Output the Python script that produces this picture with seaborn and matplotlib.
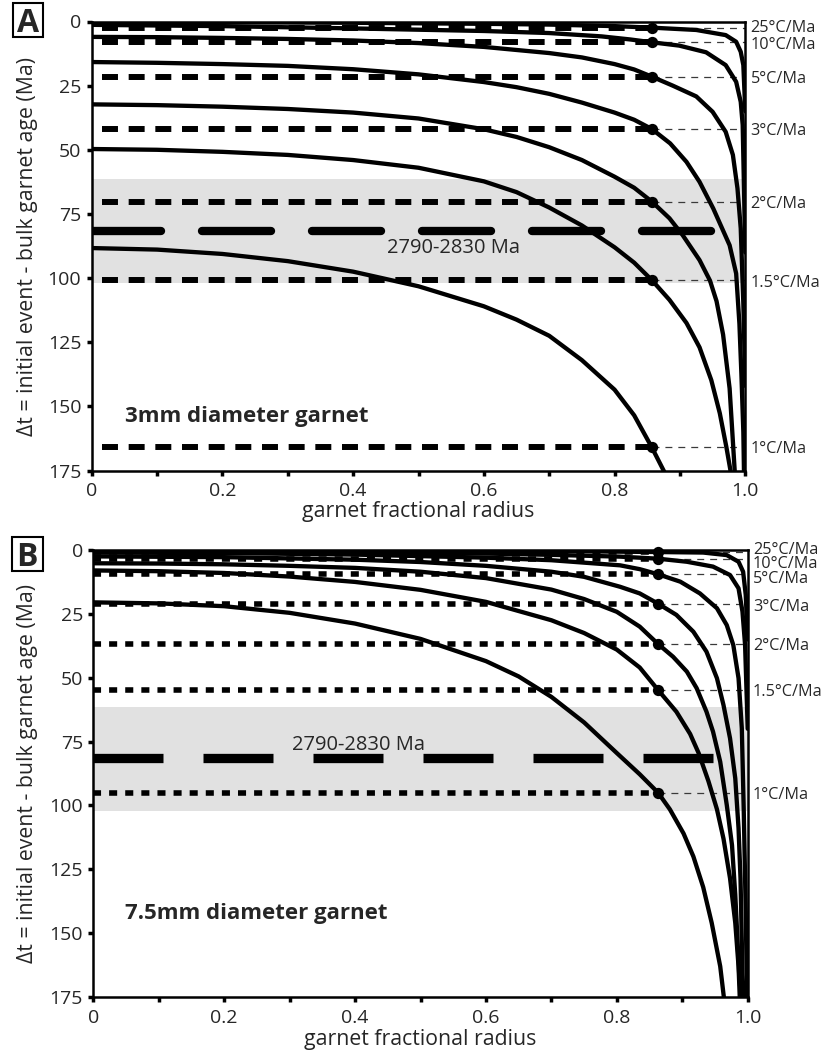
import numpy as np
import pandas as pd
import matplotlib
matplotlib.use("Agg")
import matplotlib.pyplot as plt
import seaborn as sns
from matplotlib.patches import Rectangle

# ---------------- data ----------------
RATES = ['25°C/Ma', '10°C/Ma', '5°C/Ma', '3°C/Ma', '2°C/Ma', '1.5°C/Ma', '1°C/Ma']

# Panel A : 3 mm diameter garnet, age profiles (x = fractional radius, dt in Ma)
A25_X = [0, 0.2, 0.4, 0.6, 0.7, 0.8, 0.857, 0.925, 0.97, 0.986, 0.993, 0.997, 1.0]
A25_Y = [0.2, 0.3, 0.5, 0.9, 1.2, 1.8, 2.4, 3.3, 5.3, 7.9, 11.8, 17.0, 35.0]
A10_X = [0, 0.2, 0.4, 0.6, 0.7, 0.78, 0.824, 0.857, 0.899, 0.94, 0.97, 0.986, 0.993, 0.996, 1.0]
A10_Y = [1.3, 1.8, 2.7, 3.7, 4.5, 5.8, 7.0, 8.1, 9.4, 12.0, 17.0, 23.5, 31.3, 40.3, 90.0]
A5_X = [0, 0.1, 0.2, 0.3, 0.4, 0.5, 0.6, 0.7, 0.75, 0.8, 0.83, 0.857, 0.889, 0.925, 0.95,
        0.97, 0.981, 0.988, 0.993, 0.997, 1.0]
A5_Y = [6.0, 6.1, 6.4, 6.8, 7.4, 8.4, 9.9, 12.3, 14.0, 16.6, 18.7, 21.5, 25.0, 29.2, 35.2,
        43.0, 52.0, 65.0, 80.6, 110.0, 142.0]
A3_X = [0, 0.1, 0.2, 0.3, 0.4, 0.5, 0.6, 0.65, 0.7, 0.75, 0.8, 0.83, 0.857, 0.885, 0.91,
        0.93, 0.951, 0.976, 0.986, 0.991, 0.994, 0.997, 0.998]
A3_Y = [15.8, 16.1, 16.6, 17.3, 18.6, 20.6, 23.6, 25.6, 28.2, 31.6, 35.5, 38.3, 41.9, 47.5, 54.7,
        62.5, 72.9, 87.2, 98.2, 117.8, 137.3, 160.0, 176.0]
A2_X = [0, 0.1, 0.2, 0.3, 0.4, 0.5, 0.6, 0.65, 0.7, 0.75, 0.8, 0.83, 0.857, 0.884, 0.904,
        0.93, 0.946, 0.956, 0.966, 0.976, 0.984]
A2_Y = [32.3, 32.6, 33.2, 34.1, 35.5, 37.8, 42.0, 45.0, 49.0, 54.0, 60.5, 64.8, 70.2, 76.7, 83.2,
        93.0, 101.0, 109.0, 122.0, 143.0, 176.0]
A15_X = [0, 0.1, 0.2, 0.3, 0.4, 0.5, 0.6, 0.65, 0.7, 0.75, 0.8, 0.83, 0.857, 0.884,
         0.91, 0.93, 0.948, 0.961, 0.971, 0.978]
A15_Y = [49.7, 50.0, 50.8, 52.0, 54.0, 57.0, 62.3, 66.5, 72.5, 79.5, 88.0, 94.0, 100.8, 108.5,
         117.5, 127.0, 139.8, 152.7, 165.8, 176.0]
A1_X = [0, 0.1, 0.2, 0.3, 0.4, 0.5, 0.6, 0.65, 0.7, 0.75, 0.8, 0.83, 0.857, 0.88]
A1_Y = [88.3, 88.9, 90.6, 93.4, 97.5, 103.2, 111.0, 116.2, 122.5, 132.0, 143.5, 153.5, 166.0, 177.5]

# Panel B : 7.5 mm diameter garnet
B25_X = [0, 0.4, 0.7, 0.863, 0.932, 0.968, 0.986, 0.993, 0.997, 1.0]
B25_Y = [0.1, 0.2, 0.4, 0.8, 1.0, 2.0, 4.6, 8.5, 17.6, 35.0]
B10_X = [0, 0.2, 0.4, 0.6, 0.7, 0.805, 0.863, 0.907, 0.947, 0.973, 0.986, 0.992, 0.996, 1.0]
B10_Y = [0.5, 0.6, 0.9, 1.4, 1.9, 2.6, 3.4, 4.6, 6.5, 9.8, 15.0, 24.1, 37.2, 70.0]
B5_X = [0, 0.2, 0.4, 0.6, 0.7, 0.805, 0.835, 0.863, 0.897, 0.927, 0.953, 0.968, 0.978,
        0.986, 0.991, 0.994, 0.997, 0.999]
B5_Y = [1.0, 1.2, 1.8, 3.0, 4.0, 6.0, 7.5, 9.5, 12.4, 17.0, 22.8, 29.4, 37.2,
        50.2, 69.8, 102.4, 141.5, 176.0]
B3_X = [0, 0.2, 0.4, 0.5, 0.6, 0.7, 0.75, 0.805, 0.835, 0.863, 0.891, 0.917, 0.937, 0.953,
        0.963, 0.973, 0.981, 0.986, 0.989, 0.992, 0.994]
B3_Y = [2.5, 2.8, 3.8, 4.7, 6.2, 8.5, 10.5, 14.4, 17.0, 21.0, 25.4, 32.0, 39.8, 50.2,
        60.7, 73.7, 89.4, 108.9, 128.5, 166.0, 176.0]
B2_X = [0, 0.1, 0.2, 0.3, 0.4, 0.5, 0.6, 0.7, 0.75, 0.8, 0.835, 0.863, 0.886, 0.907, 0.922,
        0.937, 0.947, 0.958, 0.968, 0.976, 0.981, 0.987, 0.990]
B2_Y = [5.2, 5.3, 5.6, 6.2, 7.0, 8.5, 11.0, 15.5, 19.2, 24.2, 30.0, 36.8, 41.8, 47.6, 54.1,
        63.3, 71.1, 82.9, 99.8, 115.5, 135.0, 166.0, 176.0]
B15_X = [0, 0.1, 0.2, 0.3, 0.4, 0.5, 0.6, 0.7, 0.75, 0.8, 0.835, 0.863, 0.891, 0.912, 0.925,
         0.94, 0.953, 0.963, 0.973, 0.981, 0.986, 0.988]
B15_Y = [8.0, 8.3, 9.0, 10.4, 12.5, 15.6, 20.3, 27.5, 32.5, 39.0, 46.0, 54.8, 63.3, 72.0, 79.5,
         90.5, 101.5, 113.0, 128.5, 146.0, 163.0, 176.0]
B1_X = [0, 0.1, 0.2, 0.3, 0.4, 0.5, 0.6, 0.65, 0.7, 0.75, 0.8, 0.835, 0.863, 0.881, 0.902,
        0.917, 0.932, 0.945, 0.958, 0.964]
B1_Y = [20.5, 20.9, 22.0, 24.6, 28.8, 34.8, 43.5, 49.5, 57.5, 67.5, 79.5, 87.8, 95.0, 101.5,
        111.0, 120.0, 132.0, 146.0, 163.0, 176.0]

# bulk garnet ages (dashed lines) and label positions
A_BULK = [2.4, 8.1, 21.5, 41.9, 70.2, 100.8, 166.0]
A_LABEL_Y = [1.7, 8.5, 21.5, 42.0, 70.3, 101.0, 166.0]
A_DOT_X = 0.857
B_BULK = [0.8, 3.4, 9.5, 21.0, 36.8, 54.8, 95.0]
B_LABEL_Y = [-0.9, 4.6, 10.4, 21.5, 36.9, 54.9, 95.0]
B_DOT_X = 0.863

BAND = (61.5, 102.0)
EVENT_DT = 81.5
EVENT_TEXT = '2790-2830 Ma'

X_TICKS = [0, 0.2, 0.4, 0.6, 0.8, 1.0]
X_TICK_LABELS = ['0', '0.2', '0.4', '0.6', '0.8', '1.0']
Y_TICKS = [0, 25, 50, 75, 100, 125, 150, 175]

XLABEL = 'garnet fractional radius'
YLABEL = 'Δt = initial event - bulk garnet age (Ma)'


def make_df(xs, ys):
    frames = []
    for rate, x, y in zip(RATES, xs, ys):
        frames.append(pd.DataFrame({'rate': rate, 'r': x, 'dt': y}))
    return pd.concat(frames, ignore_index=True)


df_a = make_df([A25_X, A10_X, A5_X, A3_X, A2_X, A15_X, A1_X],
               [A25_Y, A10_Y, A5_Y, A3_Y, A2_Y, A15_Y, A1_Y])
df_b = make_df([B25_X, B10_X, B5_X, B3_X, B2_X, B15_X, B1_X],
               [B25_Y, B10_Y, B5_Y, B3_Y, B2_Y, B15_Y, B1_Y])

# ---------------- style ----------------
sns.set_style("ticks")
plt.rcParams['font.family'] = ['Open Sans', 'DejaVu Sans']
plt.rcParams['lines.scale_dashes'] = False
plt.rcParams['axes.linewidth'] = 1.8
plt.rcParams['lines.solid_joinstyle'] = 'round'

W, H = 822, 1063
fig = plt.figure(figsize=(W / 100, H / 100), dpi=100)


def px_axes(l, t, r, b):
    return fig.add_axes([l / W, 1 - b / H, (r - l) / W, (b - t) / H])


ax_a = px_axes(91.7, 21.5, 745.3, 470.5)
ax_b = px_axes(93.3, 550.0, 747.7, 997.0)


def draw_panel(ax, df, bulk, label_y, dot_x, dot_style, big_style, text_xy, title_xy, title):
    ax.axhspan(BAND[0], BAND[1], color='#e1e1e1', lw=0, zorder=0)
    ax.plot([0, 1], [EVENT_DT, EVENT_DT], color='black', zorder=1, **big_style)
    for v in bulk:
        ax.plot([0, dot_x], [v, v], color='black', zorder=2, **dot_style)
        ax.plot([dot_x, 1], [v, v], color='#3a3a3a', lw=0.9, ls=(0, (5, 4.3)), zorder=2)
    sns.lineplot(data=df, x='r', y='dt', hue='rate', palette=['black'] * len(RATES),
                 estimator=None, sort=False, legend=False, lw=3.1, ax=ax, zorder=3)
    sns.scatterplot(x=[dot_x] * len(bulk), y=bulk, color='black', s=66, linewidth=0,
                    zorder=4, ax=ax, legend=False, clip_on=False)
    for lab, v in zip(RATES, label_y):
        ax.text(1.008, v, lab, transform=ax.get_yaxis_transform(), ha='left',
                va='center_baseline', fontsize=11.7, clip_on=False)
    ax.text(text_xy[0], text_xy[1], EVENT_TEXT, ha='right', va='baseline', fontsize=14.5)
    ax.text(title_xy[0], title_xy[1], title, ha='left', va='baseline', fontsize=16,
            fontweight='bold')

    ax.set_xlim(0, 1)
    ax.set_ylim(175, 0)
    ax.set_xticks(X_TICKS)
    ax.set_xticklabels(X_TICK_LABELS)
    ax.set_xticks(np.arange(0, 1.01, 0.1), minor=True)
    ax.set_yticks(Y_TICKS)
    ax.tick_params(axis='both', which='both', direction='out', length=3.5, width=2.5,
                   labelsize=14, color='black')
    ax.tick_params(axis='x', which='both', pad=5, top=False, bottom=True)
    ax.tick_params(axis='y', which='both', pad=4, left=True, right=False)
    ax.tick_params(axis='y', which='minor', left=False)
    for s in ax.spines.values():
        s.set_linewidth(1.8)
        s.set_color('black')
    ax.set_xlabel(XLABEL, fontsize=15.3)
    ax.set_ylabel(YLABEL, fontsize=15.3)
    ax.xaxis.label.set_va('center')
    ax.yaxis.label.set_va('center')
    ax.grid(False)


draw_panel(ax_a, df_a, A_BULK, A_LABEL_Y, A_DOT_X,
           dict(lw=4.3, ls=(12.0, (11.5, 7.7))),
           dict(lw=6.0, ls=(0, (49.7, 29.5)), dash_capstyle='round'),
           (0.655, 90.4), (0.051, 156.1), '3mm diameter garnet')
ax_a.yaxis.set_label_coords(-(91.7 - 28) / 653.6, 0.5)
ax_a.xaxis.set_label_coords(0.5, -(512 - 470.5) / 449.0)

draw_panel(ax_b, df_b, B_BULK, B_LABEL_Y, B_DOT_X,
           dict(lw=4.0, ls=(0, (5.8, 5.8))),
           dict(lw=6.7, ls=(0, (50.4, 28.8)), dash_capstyle='butt'),
           (0.507, 78.3), (0.048, 144.4), '7.5mm diameter garnet')
ax_b.yaxis.set_label_coords(-(93.3 - 28) / 654.4, 0.5)
ax_b.xaxis.set_label_coords(0.5, -(1039 - 997) / 447.0)

# panel letters in boxes
for letter, (l, t) in [('A', (12.5, 3.0)), ('B', (12.0, 537.0))]:
    w, h = 30.5, 33.5
    fig.patches.append(Rectangle((l / W, 1 - (t + h) / H), w / W, h / H, transform=fig.transFigure,
                                 fill=False, edgecolor='black', lw=1.5))
    fig.text((l + w / 2) / W, 1 - (t + h / 2) / H, letter, ha='center', va='center_baseline',
             fontsize=23, fontweight='bold')

fig.savefig('out.png', dpi=100)
